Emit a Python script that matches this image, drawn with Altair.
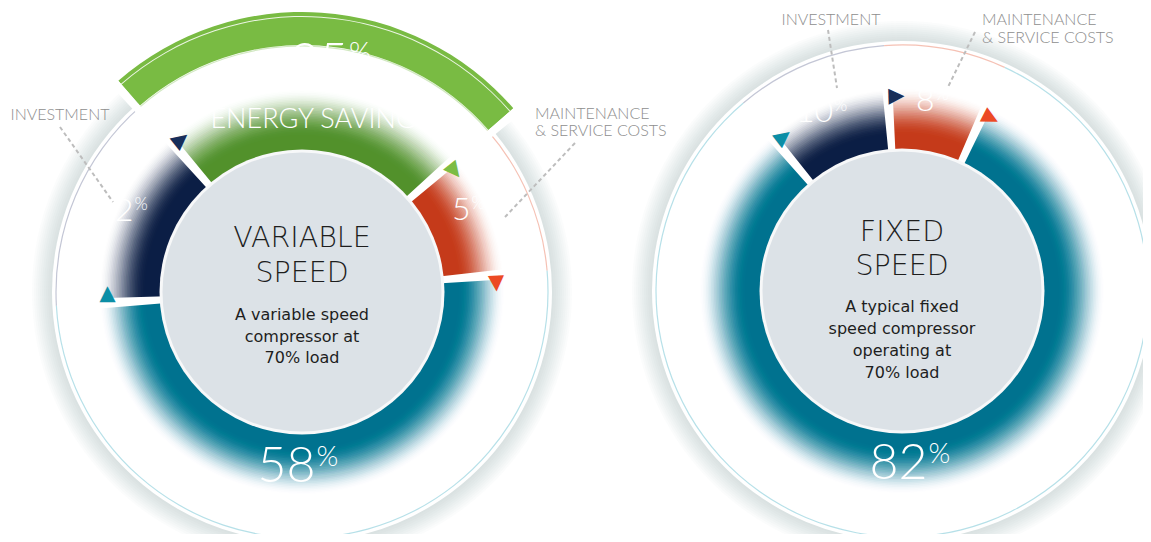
import math
import pandas as pd
import altair as alt

# ------------------------------------------------------------------ data
vs_segments = ["Energy", "Investment", "Energy savings", "Maintenance"]
vs_labels = [58, 12, 25, 5]                # printed percentages
vs_arc_share = [50.5, 14.5, 25.0, 10.0]    # slice sizes as drawn in the picture

fs_segments = ["Energy", "Investment", "Maintenance"]
fs_labels = [82, 10, 8]
fs_arc_share = [82.0, 10.0, 8.0]

vs_title = "VARIABLE\nSPEED"
vs_caption = "A variable speed\ncompressor at\n70% load"
fs_title = "FIXED\nSPEED"
fs_caption = "A typical fixed\nspeed compressor\noperating at\n70% load"
savings_title = "ENERGY SAVINGS"
cat_investment = "INVESTMENT"
cat_maintenance = "MAINTENANCE\n& SERVICE COSTS"

# ------------------------------------------------------------------ styles
FILL = {"Energy": "#007f95", "Investment": "#13264b",
        "Energy savings": "#5b9834", "Maintenance": "#cc4121"}
FLAG = {"Energy": "#0b8ea6", "Investment": "#172e5a",
        "Energy savings": "#7cbc44", "Maintenance": "#ec4a24"}
RING = {"Energy": "#8fcfdc", "Investment": "#a3a8be",
        "Energy savings": "#b9dba0", "Maintenance": "#f0a08c"}
BAND_GREEN = "#79bb43"
DISK_GREY = "#dce2e7"
LABEL_GREY = "#8e8e8e"
LEADER_GREY = "#bdbdbd"
TEXT_DARK = "#1e1e1e"
FONT = "Lato"
BODY_FONT = "DejaVu Sans"
TAU = 2 * math.pi

GAP = 0.4
FLAG_SHIFT = 0.7
CAP = 0.5

VS_OFF, VS_C = 85.0, (294, 284)
FS_OFF, FS_C = 24.65, (894, 283)

one = pd.DataFrame({"k": [0]})


def seg_table(names, shares, labels):
    df = pd.DataFrame({"name": names, "share": shares,
                       "label": [str(v) for v in labels]})
    df["end"] = df["share"].cumsum()
    df["start"] = df["end"] - df["share"]
    df["mid"] = (df["start"] + df["end"]) / 2
    df["col"] = df["name"].map(FILL)
    df["flagcol"] = df["name"].map(FLAG)
    df["ringcol"] = df["name"].map(RING)
    df["gap0"] = df["end"] - GAP
    df["gap1"] = df["end"] + GAP
    df["flagpos"] = df["end"] + FLAG_SHIFT
    df["cap0"] = df["start"] - CAP
    df["cap1"] = df["end"] + CAP
    return df


def T(field, off):
    a = math.radians(off)
    return alt.Theta(f"{field}:Q", stack=False,
                     scale=alt.Scale(domain=[0, 100], range=[a, a + TAU]))


def pos(c):
    return dict(x=alt.value(c[0]), y=alt.value(c[1]))


def full(c, r, r2, color, opacity=1.0):
    return alt.Chart(one).mark_arc(theta=0, theta2=TAU, radius=r, radius2=r2,
                                   color=color, opacity=opacity).encode(**pos(c))


def seg_arc(df, off, c, f0, f1, colfield=None, color=None, **mk):
    enc = dict(theta=T(f0, off), theta2=alt.Theta2(f"{f1}:Q"), **pos(c))
    if colfield is not None:
        enc["color"] = alt.Color(f"{colfield}:N", scale=None)
        return alt.Chart(df).mark_arc(**mk).encode(**enc)
    return alt.Chart(df).mark_arc(color=color, **mk).encode(**enc)


# smooth radial fade profile (cumulative overlays)
N_FADE = 30
R_SOLID, R_FADE_END = 156.0, 204.0
cov = [0.5 * (1 + math.cos(math.pi * (j - 0.5) / N_FADE)) for j in range(1, N_FADE + 1)]
P = [1 - c for c in cov] + [1.0]
fade_alpha = [1 - P[j] / P[j + 1] for j in range(N_FADE)]
fade_r = [R_SOLID + (R_FADE_END - R_SOLID) * (j + 1) / N_FADE for j in range(N_FADE)]


def pct_labels(df, off, c, r, size, psize, dy, dx=0):
    return [
        alt.Chart(df).mark_text(radius=r, fontSize=size, font=FONT, fontWeight=300,
                                align="right", baseline="alphabetic", color="white",
                                dx=dx).encode(theta=T("mid", off), text=alt.Text("label:N"), **pos(c)),
        alt.Chart(df).mark_text(radius=r, fontSize=psize, font=FONT, fontWeight=300,
                                align="left", baseline="alphabetic", color="white",
                                dx=dx + 1, dy=dy, text="%").encode(theta=T("mid", off), **pos(c)),
    ]


def donut(df, off, c, big_name, small_names, title, caption, title_y, cap_y, title_lh, cap_lh,
          extra_after_ring=None):
    L = []
    for k in range(1, 11):
        L.append(full(c, 250 + 2 * k, 246, "#a4abb4", 0.04))
    L.append(full(c, 250, 0, "#ffffff"))
    L.append(seg_arc(df, off, c, "start", "end", colfield="ringcol",
                     radius=246.6, radius2=245.4, opacity=0.65))
    L.append(seg_arc(df, off, c, "start", "end", colfield="col", radius=R_SOLID, radius2=137))
    for a, r in zip(fade_alpha, fade_r):
        L.append(seg_arc(df, off, c, "start", "end", colfield="col",
                         radius=r, radius2=137, opacity=a))
    if extra_after_ring:
        L.extend(extra_after_ring)
    L.append(seg_arc(df, off, c, "gap0", "gap1", color="#ffffff", radius=212, radius2=136))
    L.append(alt.Chart(df).mark_text(text="▶", radius=195, fontSize=21, font="DejaVu Sans",
                                     align="center", baseline="middle").encode(
        theta=T("flagpos", off),
        angle=alt.Angle("flagpos:Q", scale=alt.Scale(domain=[0, 100], range=[off, off + 360])),
        color=alt.Color("flagcol:N", scale=None), **pos(c)))
    L.append(full(c, 142.5, 0, "#f7f8f9"))
    L.append(full(c, 139.5, 0, DISK_GREY))
    big = df[df["name"] == big_name]
    small = df[df["name"].isin(small_names)]
    L += pct_labels(big, off, c, 190, 50, 28, -16)
    L += pct_labels(small, off, c, 183, 32, 17, -11)
    L.append(alt.Chart(pd.DataFrame({"t": [title]})).mark_text(
        font=BODY_FONT, fontWeight=200, fontSize=28.5, color=TEXT_DARK, align="center",
        baseline="alphabetic", lineBreak="\n", lineHeight=title_lh).encode(
        text="t:N", x=alt.value(c[0]), y=alt.value(title_y)))
    L.append(alt.Chart(pd.DataFrame({"t": [caption]})).mark_text(
        font=BODY_FONT, fontSize=16, color=TEXT_DARK, align="center",
        baseline="alphabetic", lineBreak="\n", lineHeight=cap_lh).encode(
        text="t:N", x=alt.value(c[0]), y=alt.value(cap_y)))
    return L


vs = seg_table(vs_segments, vs_arc_share, vs_labels)
fs = seg_table(fs_segments, fs_arc_share, fs_labels)
sav = vs[vs["name"] == "Energy savings"]

savings_band = [
    seg_arc(sav, VS_OFF, VS_C, "start", "end", color=BAND_GREEN, radius=280, radius2=247),
    seg_arc(sav, VS_OFF, VS_C, "start", "end", color="#ffffff", radius=276, radius2=275, opacity=0.85),
    seg_arc(sav, VS_OFF, VS_C, "cap0", "start", color="#ffffff", radius=290, radius2=236),
    seg_arc(sav, VS_OFF, VS_C, "end", "cap1", color="#ffffff", radius=290, radius2=236),
]

vs_layers = donut(vs, VS_OFF, VS_C, "Energy", ["Investment", "Maintenance"],
                  vs_title, vs_caption, 239, 312, 35, 21.5, extra_after_ring=savings_band)
# savings annotations (white, over the green)
vs_layers += pct_labels(sav, VS_OFF, VS_C, 215, 50, 28, -16, dx=31)
vs_layers.append(alt.Chart(sav.assign(t=savings_title)).mark_text(
    radius=164, fontSize=27, font=FONT, fontWeight=300, color="white",
    align="left", baseline="alphabetic", dx=-103).encode(
    theta=T("mid", VS_OFF), text="t:N", **pos(VS_C)))

fs_layers = donut(fs, FS_OFF, FS_C, "Energy", ["Investment", "Maintenance"],
                  fs_title, fs_caption, 233, 304, 34, 22)

# ------------------------------------------------------------------ category labels + leaders
def leader(x1, y1, x2, y2):
    return alt.Chart(one).mark_rule(color=LEADER_GREY, strokeWidth=2, strokeDash=[4, 3]).encode(
        x=alt.value(x1), y=alt.value(y1), x2=alt.value(x2), y2=alt.value(y2))


def cat_text(txt, x, y, align, lh):
    return alt.Chart(pd.DataFrame({"t": [txt]})).mark_text(
        font=FONT, fontWeight=300, fontSize=16, color=LABEL_GREY, align=align,
        baseline="alphabetic", lineBreak="\n", lineHeight=lh).encode(
        text="t:N", x=alt.value(x), y=alt.value(y))


ann = [
    leader(52, 119, 105, 194),
    leader(567, 135, 497, 209),
    leader(820, 22, 829, 80),
    leader(967, 24, 940, 79),
    cat_text(cat_investment, 52, 112, "center", 17),
    cat_text(cat_maintenance, 527, 111, "left", 17),
    cat_text(cat_investment, 823, 17, "center", 17),
    cat_text(cat_maintenance, 974, 17, "left", 18),
]

chart = alt.layer(*(vs_layers + fs_layers + ann)).resolve_scale(
    theta="independent", angle="independent"
).properties(
    width=1135, height=526, padding=0, autosize="none"
).configure(background="#ffffff").configure_view(strokeWidth=0, stroke="transparent")

chart.save("out.html", embed_options={"renderer": "svg", "actions": False})
